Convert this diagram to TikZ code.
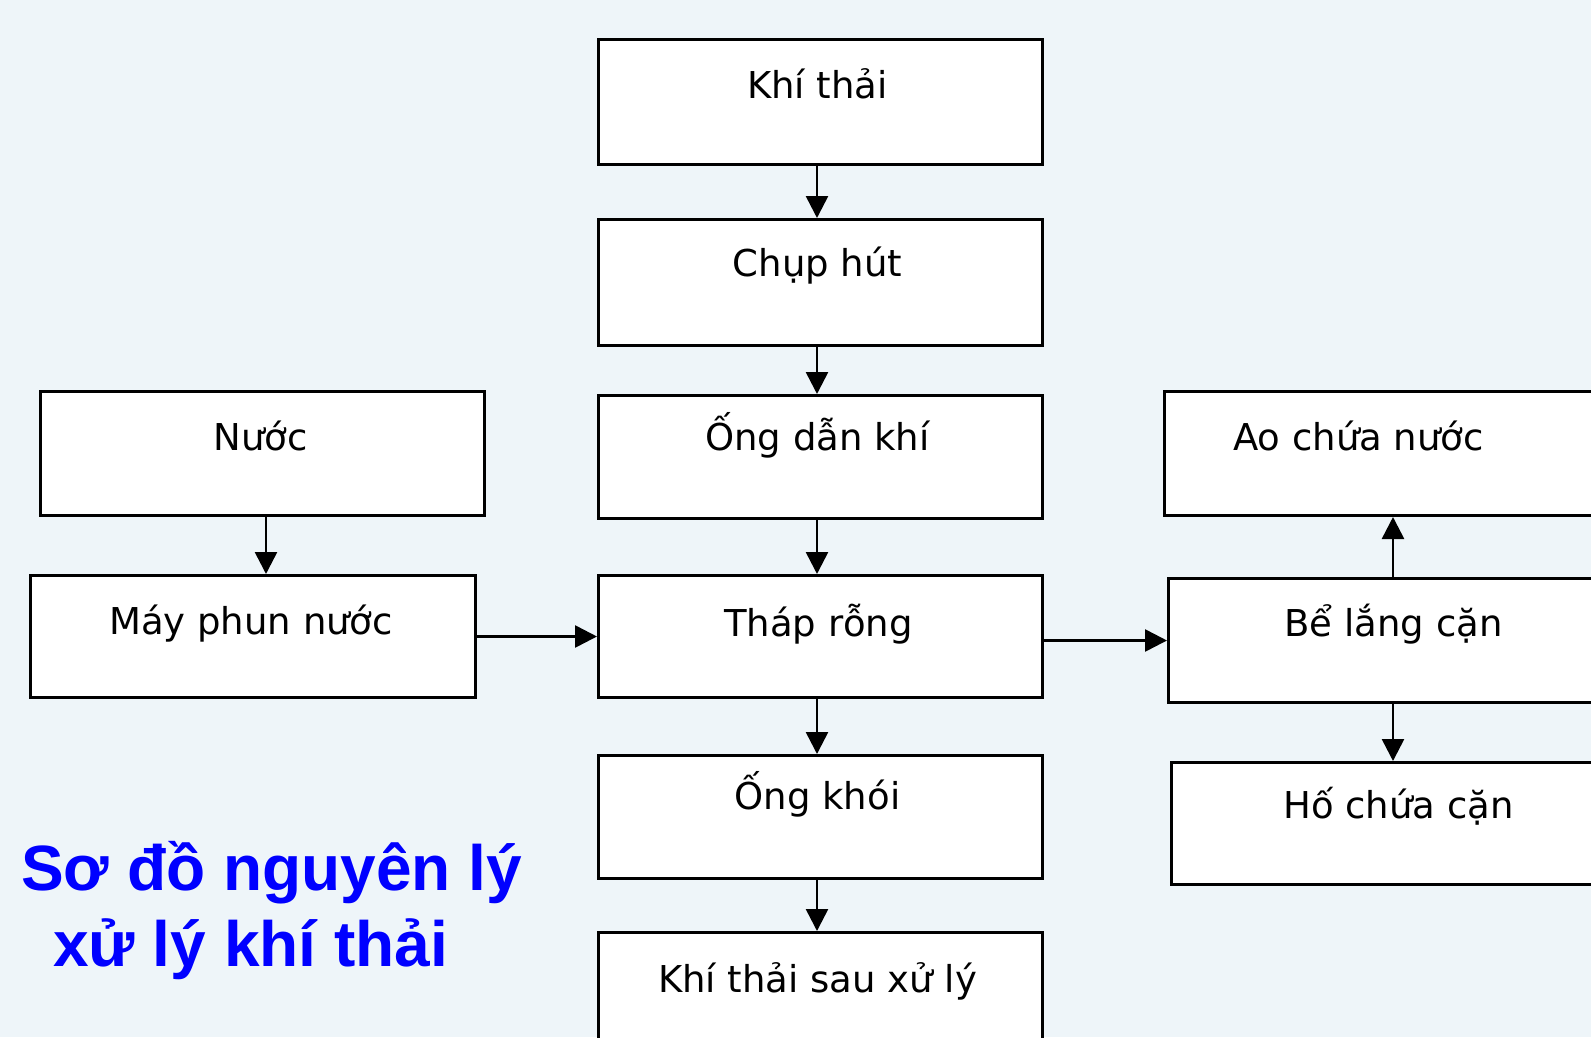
\documentclass[tikz,border=0pt]{standalone}
\usepackage{fontspec}
\setmainfont{DejaVu Sans}
\newfontfamily\titlefont{Liberation Sans}
\usetikzlibrary{arrows.meta,calc}
\definecolor{bgc}{RGB}{238,245,249}
\definecolor{ttl}{RGB}{0,0,255}
\begin{document}
\begin{tikzpicture}[x=1pt,y=-1pt,
  box/.style={draw=black, fill=white, line width=3pt, inner sep=0pt, anchor=north west, minimum height=124pt},
  lbl/.style={anchor=base, inner sep=0pt, font=\fontsize{37}{44}\selectfont},
  ttlstyle/.style={anchor=base west, inner sep=0pt, text=ttl, font=\titlefont\bfseries\fontsize{64}{76}\selectfont},
  arr/.style={line width=2.6pt, -{Triangle[width=22pt,length=22pt]}}]
\useasboundingbox (0,0) rectangle (1591,1037);
\clip (0,0) rectangle (1591,1037);
\fill[bgc] (0,0) rectangle (1591,1037);
% centre column
\node[box, minimum width=444pt, minimum height=125pt] (kt) at (597,38) {};
\node[box, minimum width=444pt, minimum height=126pt] (ch) at (597,218) {};
\node[box, minimum width=444pt, minimum height=123pt] (od) at (597,394) {};
\node[box, minimum width=444pt, minimum height=122pt] (tr) at (597,574) {};
\node[box, minimum width=444pt, minimum height=123pt] (ok) at (597,754) {};
\node[box, minimum width=444pt, minimum height=160pt] (ks) at (597,931) {};
% left column
\node[box, minimum width=444pt, minimum height=124pt] (nu) at (39,390) {};
\node[box, minimum width=445pt, minimum height=122pt] (mp) at (29,574) {};
% right column
\node[box, minimum width=450pt, minimum height=124pt] (ao) at (1163,390) {};
\node[box, minimum width=450pt, minimum height=124pt] (bl) at (1167,577) {};
\node[box, minimum width=454pt, minimum height=122pt] (hc) at (1170,761) {};
% labels
\node[lbl] (ktt) at ([xshift=-3pt,yshift=-60pt]kt.north) {Khí thải};
\node[lbl] (cht) at ([xshift=-3pt,yshift=-58pt]ch.north) {Chụp hút};
\node[lbl] (odt) at ([xshift=-3pt,yshift=-56pt]od.north) {Ống dẫn khí};
\node[lbl] (trt) at ([xshift=-2pt,yshift=-62pt]tr.north) {Tháp rỗng};
\node[lbl] (okt) at ([xshift=-3pt,yshift=-55pt]ok.north) {Ống khói};
\node[lbl] (kst) at ([xshift=-3pt,yshift=-61pt]ks.north) {Khí thải sau xử lý};
\node[lbl] (nut) at ([xshift=-2pt,yshift=-60pt]nu.north) {Nước};
\node[lbl] (mpt) at ([xshift=-2pt,yshift=-60pt]mp.north) {Máy phun nước};
\node[lbl] (aot) at ([xshift=-31pt,yshift=-60pt]ao.north) {Ao chứa nước};
\node[lbl] (blt) at ([xshift=0pt,yshift=-59pt]bl.north) {Bể lắng cặn};
\node[lbl] (hct) at ([xshift=0pt,yshift=-57pt]hc.north) {Hố chứa cặn};
% title
\node[ttlstyle] (t1) at (21,890) {Sơ đồ nguyên lý};
\node[ttlstyle] (t2) at (53,966) {xử lý khí thải};
% connectors
\coordinate (cx) at (817,0);
\coordinate (rx) at (1393,0);
\draw[arr] (kt.south -| cx) -- (ch.north -| cx);
\draw[arr] (ch.south -| cx) -- (od.north -| cx);
\draw[arr] (od.south -| cx) -- (tr.north -| cx);
\draw[arr] (tr.south -| cx) -- (ok.north -| cx);
\draw[arr] (ok.south -| cx) -- (ks.north -| cx);
\coordinate (lx) at (266,0);
\draw[arr] (nu.south -| lx) -- (mp.north -| lx);
\draw[arr] (mp.east) -- (tr.west);
\draw[arr] (bl.west -| tr.east) -- (bl.west);
\draw[arr] (bl.north -| rx) -- (ao.south -| rx);
\draw[arr] (bl.south -| rx) -- (hc.north -| rx);
\end{tikzpicture}
\end{document}
